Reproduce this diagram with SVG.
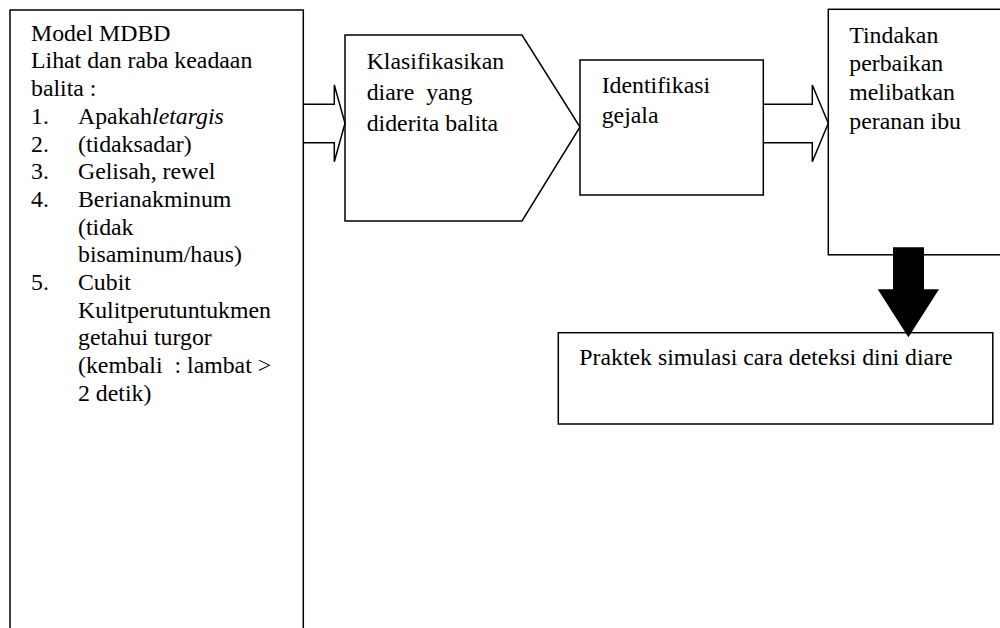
<svg xmlns="http://www.w3.org/2000/svg" width="1000" height="628" viewBox="0 0 1000 628">
<style>
.box{fill:#fff;stroke:#000;stroke-width:1.5}
.hollow{fill:none;stroke:#000;stroke-width:1.5;stroke-linejoin:miter}
.solid{fill:#000;stroke:none}
.t{font-family:"Liberation Serif",serif;font-size:23.8px;fill:#000}
</style>
<rect width="1000" height="628" fill="#fff"/>
<g id="node-model" class="t" font-family="Liberation Serif, serif">
<rect class="box" x="10" y="10" width="293.3" height="640"/>
<text x="31" y="40.7">Model MDBD</text>
<text x="31" y="68.4">Lihat dan raba keadaan</text>
<text x="31" y="96.1">balita :</text>
<text x="31" y="123.8">1.</text><text x="78" y="123.8">Apakah<tspan font-style="italic">letargis</tspan></text>
<text x="31" y="151.5">2.</text><text x="78" y="151.5">(tidaksadar)</text>
<text x="31" y="179.2">3.</text><text x="78" y="179.2">Gelisah, rewel</text>
<text x="31" y="206.9">4.</text><text x="78" y="206.9">Berianakminum</text>
<text x="78" y="234.6">(tidak</text>
<text x="78" y="262.3">bisaminum/haus)</text>
<text x="31" y="290">5.</text><text x="78" y="290">Cubit</text>
<text x="78" y="317.7">Kulitperutuntukmen</text>
<text x="78" y="345.4">getahui turgor</text>
<text x="78" y="373.1" xml:space="preserve" style="white-space:pre">(kembali  : lambat &gt;</text>
<text x="78" y="400.8">2 detik)</text>
</g>
<g id="node-klasifikasi" class="t" font-family="Liberation Serif, serif">
<polygon class="box" points="345,35 522,35 580,127 522,221 345,221"/>
<text x="366.7" y="69.3">Klasifikasikan</text>
<text x="366.7" y="100.3" xml:space="preserve" style="white-space:pre">diare  yang</text>
<text x="366.7" y="131.3">diderita balita</text>
</g>
<g id="node-identifikasi" class="t" font-family="Liberation Serif, serif">
<rect class="box" x="580" y="60" width="183.3" height="135"/>
<text x="601.7" y="93.3">Identifikasi</text>
<text x="601.7" y="123.3">gejala</text>
</g>
<g id="node-tindakan" class="t" font-family="Liberation Serif, serif">
<rect class="box" x="828.3" y="9.3" width="200" height="245.5"/>
<text x="849.3" y="42.7">Tindakan</text>
<text x="849.3" y="71.4">perbaikan</text>
<text x="849.3" y="100">melibatkan</text>
<text x="849.3" y="128.5">peranan ibu</text>
</g>
<g id="node-praktek" class="t" font-family="Liberation Serif, serif">
<rect class="box" x="558.3" y="332.7" width="434.5" height="91.3"/>
<text x="579.3" y="364.5">Praktek simulasi cara deteksi dini diare</text>
</g>
<g id="connectors">
<polyline class="hollow" points="303.3,104.3 334.3,104.3 334.3,85 345,123.3 334.3,161.7 334.3,142.7 303.3,142.7"/>
<polyline class="hollow" points="763.3,104.3 812.3,104.3 812.3,85 828.3,123.3 812.3,161.7 812.3,142.7 763.3,142.7"/>
<polygon class="solid" points="893,247.3 924,247.3 924,289.3 939,289.3 908.4,337.3 877.7,289.3 893,289.3"/>
</g>
</svg>
